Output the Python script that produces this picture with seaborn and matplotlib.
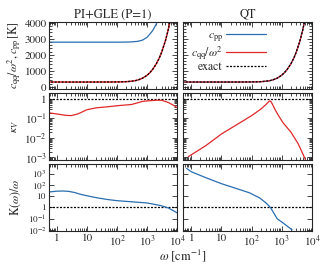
import numpy as np
import pandas as pd
import matplotlib
matplotlib.use("Agg")
import matplotlib.pyplot as plt
import seaborn as sns
from matplotlib.ticker import FixedLocator, FuncFormatter, LogLocator, NullFormatter, AutoMinorLocator

# ---------------- data ----------------
titles = ["PI+GLE (P=1)", "QT"]

# exact harmonic kinetic-energy reference curve [K]
w_exact = [0.5, 1, 10, 30, 50, 100, 150, 200, 300, 400, 500, 700, 1000, 1200, 1500,
           2000, 2500, 3000, 4000, 5000, 6000]
e_exact = [300, 300, 300, 300.5, 301.4, 305.7, 312.8, 322.5, 350.2, 386.7, 431.7, 540,
           731.4, 868.8, 1080.7, 1439, 1798.5, 2158.2, 2877.6, 3597, 4316.4]

# PI+GLE top panel
w_cpp_gle = [0.5, 10, 100, 200, 300, 500, 700, 1000, 1500, 2000, 2500]
cpp_gle = [2790, 2790, 2790, 2795, 2805, 2845, 2920, 3100, 3500, 3930, 4400]
w_cqq_gle = w_exact
cqq_gle = [300, 300, 300, 300.5, 301.4, 305.7, 312.8, 322.5, 350.2, 386.7, 431.7, 540,
           731.4, 868.8, 1080.7, 1439, 1798.5, 2158.2, 2877.6, 3597, 4316.4]

# QT top panel
w_cpp_qt = w_exact
cpp_qt = [300, 300, 300, 300.5, 301.4, 305.7, 312.8, 322.5, 350.2, 386.7, 431.7, 540,
          731.4, 868.8, 1080.7, 1439, 1798.5, 2158.2, 2877.6, 3597, 4316.4]
w_cqq_qt = w_exact
cqq_qt = [300, 300, 300, 300.5, 301.4, 305.7, 312.8, 322.5, 350.2, 386.7, 431.7, 540,
          731.4, 868.8, 1080.7, 1439, 1798.5, 2158.2, 2877.6, 3597, 4316.4]

# kappa_V
w_kv_gle = [0.5, 1, 2, 3, 5, 10, 20, 50, 100, 300, 700, 1000, 2000, 3000, 5000, 7000, 10000]
kv_gle = [0.2, 0.17, 0.145, 0.14, 0.17, 0.28, 0.35, 0.4, 0.45, 0.52, 0.75, 0.8, 0.86, 0.86, 0.66, 0.5, 0.35]
w_kv_qt = [0.8, 3, 10, 30, 100, 200, 300, 360, 400, 440, 500, 600, 800, 1100, 2000, 3500, 6000]
kv_qt = [1.1e-3, 4e-3, 1.6e-2, 4.5e-2, 0.14, 0.3, 0.52, 0.7, 0.8, 0.72, 0.5, 0.28, 0.13, 0.06, 0.02, 5e-3, 8e-4]

# K(w)/w
w_k_gle = [0.5, 1, 1.6, 2.5, 4, 6, 10, 20, 50, 100, 300, 1000, 2700, 5000, 10000]
k_gle = [23, 28, 29, 27, 21, 15, 11, 7.5, 5, 4, 3.2, 2.5, 1.5, 0.9, 0.32]
w_k_qt = [0.7, 1, 3, 10, 30, 85, 185, 300, 420, 700, 1200, 2200]
k_qt = [3000, 1500, 450, 130, 50, 20, 7, 2.5, 1.0, 0.1, 0.035, 0.01]

kv_ref = 1.0
k_ref = 1.0
x_ticks = [1, 10, 100, 1000, 10000]
x_labels = ["1", "10", r"$10^2$", r"$10^3$", r"$10^4$"]

# ---------------- style ----------------
sns.set_style("ticks")
plt.rcParams["font.family"] = ["STIXGeneral", "Liberation Serif", "DejaVu Serif"]
plt.rcParams["mathtext.fontset"] = "stix"
plt.rcParams["font.size"] = 8
plt.rcParams["axes.linewidth"] = 0.8

BLUE = "#2a6db0"
RED = "#e0282a"

fig, axes = plt.subplots(3, 2, figsize=(3.2, 2.68), dpi=100, sharex=True, sharey="row")
fig.subplots_adjust(left=0.152, right=0.975, top=0.918, bottom=0.138, wspace=0.045, hspace=0.065)


def line(ax, x, y, color, ls="-", lw=0.9, label=None):
    df = pd.DataFrame({"w": x, "v": y})
    sns.lineplot(data=df, x="w", y="v", ax=ax, color=color, linestyle=ls, lw=lw,
                 label=label, legend=False, estimator=None, sort=False)


dot = (0, (1.6, 1.2))

# top row
line(axes[0, 0], w_cpp_gle, cpp_gle, BLUE)
line(axes[0, 0], w_cqq_gle, cqq_gle, RED, lw=1.1)
line(axes[0, 0], w_exact, e_exact, "black", ls=dot, lw=0.9)
line(axes[0, 1], w_cpp_qt, cpp_qt, BLUE, label=r"$c_\mathrm{pp}$")
line(axes[0, 1], w_cqq_qt, cqq_qt, RED, label=r"$c_\mathrm{qq}/\omega^2$")
line(axes[0, 1], w_exact, e_exact, "black", ls=dot, label="exact")

# middle row
for ax in axes[1]:
    ax.axhline(kv_ref, color="black", ls=dot, lw=0.9)
line(axes[1, 0], w_kv_gle, kv_gle, RED)
line(axes[1, 1], w_kv_qt, kv_qt, RED)

# bottom row
for ax in axes[2]:
    ax.axhline(k_ref, color="black", ls=dot, lw=0.9)
line(axes[2, 0], w_k_gle, k_gle, BLUE)
line(axes[2, 1], w_k_qt, k_qt, BLUE)

for ax in axes.flat:
    ax.set_xscale("log")
    ax.set_xlim(0.54, 10000)
    ax.set_xlabel("")
    ax.set_ylabel("")
    ax.xaxis.set_major_locator(FixedLocator(x_ticks))
    ax.xaxis.set_minor_locator(LogLocator(base=10, subs=np.arange(2, 10), numticks=20))
    ax.xaxis.set_minor_formatter(NullFormatter())
    ax.tick_params(which="both", direction="in", top=True, right=True, width=0.6)
    ax.tick_params(which="major", length=3.5, pad=2)
    ax.tick_params(which="minor", length=2)
    ax.tick_params(axis="y", which="major", pad=1.5)

for ax in axes[2]:
    ax.set_xticklabels(x_labels)

# y axes
axes[0, 0].set_ylim(-120, 4050)
axes[0, 0].yaxis.set_major_locator(FixedLocator([0, 1000, 2000, 3000, 4000]))
axes[0, 0].yaxis.set_minor_locator(AutoMinorLocator(5))

axes[1, 0].set_yscale("log")
axes[1, 0].set_ylim(7.5e-4, 2.0)
axes[1, 0].yaxis.set_major_locator(FixedLocator([1e-3, 1e-2, 1e-1, 1]))
axes[1, 0].yaxis.set_minor_locator(LogLocator(base=10, subs=np.arange(2, 10), numticks=20))
axes[1, 0].yaxis.set_minor_formatter(NullFormatter())
axes[1, 0].yaxis.set_major_formatter(FuncFormatter(
    lambda v, p: "1" if abs(v - 1) < 1e-9 else r"$10^{%d}$" % round(np.log10(v))))

axes[2, 0].set_yscale("log")
axes[2, 0].set_ylim(8e-3, 7e3)
axes[2, 0].yaxis.set_major_locator(FixedLocator([1e-2, 1e-1, 1, 10, 100, 1000]))
axes[2, 0].yaxis.set_minor_locator(FixedLocator([]))
axes[2, 0].yaxis.set_major_formatter(FuncFormatter(
    lambda v, p: "1" if abs(v - 1) < 1e-9 else ("10" if abs(v - 10) < 1e-9 else r"$10^{%d}$" % round(np.log10(v)))))
axes[2, 0].tick_params(axis="y", labelsize=6.7)

for ax in axes[:, 1]:
    ax.tick_params(labelleft=False)

axes[0, 0].set_title(titles[0], fontsize=9, pad=3)
axes[0, 1].set_title(titles[1], fontsize=9, pad=3)

axes[0, 0].set_ylabel(r"$c_\mathrm{qq}/\omega^2, c_\mathrm{pp}\,[\mathrm{K}]$", labelpad=1, fontsize=8.5)
axes[1, 0].set_ylabel(r"$\kappa_V$", labelpad=2, fontsize=8.5)
axes[2, 0].set_ylabel(r"$\mathrm{K}(\omega)/\omega$", labelpad=1, fontsize=8.5)
fig.align_ylabels(axes[:, 0])
fig.text(0.57, 0.015, r"$\omega$ [cm$^{-1}$]", ha="center", va="bottom", fontsize=9)

axes[0, 1].legend(loc="upper left", bbox_to_anchor=(0.0, 1.0), frameon=False, markerfirst=False,
                  handlelength=3.4, handletextpad=0.3, labelspacing=0.0, fontsize=8.5,
                  borderaxespad=0.25)

fig.savefig("out.png", dpi=100)
